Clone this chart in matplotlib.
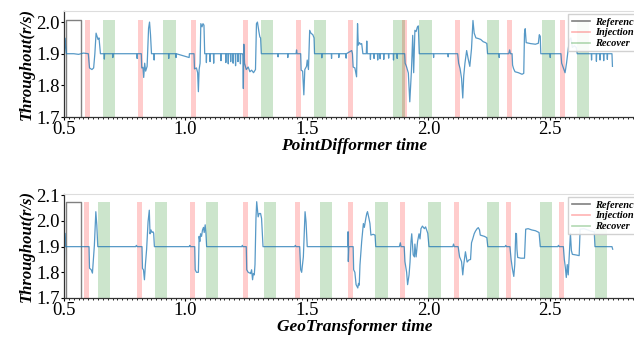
import numpy as np
import matplotlib
matplotlib.use("Agg")
import matplotlib.pyplot as plt
from matplotlib.lines import Line2D
from matplotlib.ticker import MultipleLocator

plt.rcParams['font.family'] = ['Liberation Serif', 'DejaVu Serif']

# ---- PointDifformer trace (time, throughput) ----
pd_t = [0.500, 0.503, 0.506, 0.510, 0.540, 0.560, 0.580, 0.600, 0.605, 0.615, 0.622, 0.627,
        0.632, 0.636, 0.640, 0.644, 0.650, 0.665, 0.666, 0.667, 0.700, 0.701, 0.702, 0.760,
        0.800, 0.801, 0.802, 0.818, 0.820, 0.825, 0.828, 0.832, 0.836, 0.842, 0.848, 0.852,
        0.856, 0.860, 0.870, 0.871, 0.872, 0.930, 0.931, 0.932, 0.960, 0.961, 0.962,
        1.015, 1.016, 1.035, 1.037, 1.045, 1.050, 1.053, 1.056, 1.060, 1.063, 1.068, 1.072,
        1.076, 1.079, 1.085, 1.086, 1.087, 1.100, 1.101, 1.102, 1.115, 1.116, 1.117,
        1.145, 1.146, 1.147, 1.165, 1.166, 1.167, 1.175, 1.176, 1.177, 1.185, 1.186, 1.187,
        1.195, 1.196, 1.197, 1.205, 1.206, 1.207, 1.215, 1.216, 1.217, 1.225, 1.226, 1.227,
        1.234, 1.236, 1.238, 1.240, 1.243, 1.250, 1.258, 1.265, 1.272, 1.280, 1.288, 1.292,
        1.296, 1.302, 1.306, 1.309, 1.312, 1.380, 1.381, 1.382, 1.420, 1.421, 1.422,
        1.455, 1.457, 1.459, 1.474, 1.476, 1.482, 1.487, 1.491, 1.498, 1.501, 1.506, 1.511,
        1.516, 1.524, 1.529, 1.531, 1.560, 1.561, 1.562, 1.600, 1.601, 1.602, 1.630, 1.631,
        1.632, 1.660, 1.661, 1.662, 1.684, 1.687, 1.690, 1.697, 1.704, 1.708, 1.711, 1.716,
        1.720, 1.725, 1.730, 1.744, 1.746, 1.748, 1.760, 1.761, 1.762, 1.775, 1.776, 1.777,
        1.790, 1.791, 1.792, 1.800, 1.801, 1.802, 1.815, 1.816, 1.817, 1.835, 1.836, 1.837,
        1.855, 1.856, 1.857, 1.870, 1.871, 1.872, 1.902, 1.904, 1.910, 1.917, 1.923, 1.930,
        1.935, 1.939, 1.944, 1.949, 1.954, 1.958, 1.962, 2.020, 2.021, 2.022, 2.080, 2.081,
        2.082, 2.120, 2.124, 2.130, 2.136, 2.141, 2.145, 2.150, 2.157, 2.163, 2.170, 2.177,
        2.183, 2.188, 2.195, 2.205, 2.215, 2.225, 2.235, 2.240, 2.243, 2.290, 2.291, 2.292,
        2.330, 2.334, 2.337, 2.344, 2.346, 2.350, 2.356, 2.370, 2.385, 2.392, 2.395, 2.398,
        2.402, 2.420, 2.440, 2.452, 2.456, 2.460, 2.462, 2.500, 2.501, 2.502, 2.545, 2.548,
        2.555, 2.562, 2.568, 2.575, 2.581, 2.586, 2.592, 2.600, 2.608, 2.612, 2.670, 2.671,
        2.672, 2.690, 2.691, 2.692, 2.705, 2.706, 2.707, 2.720, 2.721, 2.722, 2.735, 2.736,
        2.737, 2.755, 2.757]
pd_y = [1.800, 1.950, 1.930, 1.900, 1.900, 1.898, 1.902, 1.900, 1.855, 1.850, 1.855, 1.900,
        1.965, 1.955, 1.945, 1.950, 1.900, 1.900, 1.883, 1.900, 1.900, 1.888, 1.900, 1.900,
        1.900, 1.885, 1.900, 1.900, 1.855, 1.857, 1.825, 1.870, 1.845, 1.860, 1.980, 2.000,
        1.960, 1.900, 1.900, 1.880, 1.900, 1.900, 1.885, 1.900, 1.900, 1.888, 1.900,
        1.888, 1.900, 1.900, 1.852, 1.855, 1.840, 1.780, 1.850, 1.870, 1.995, 1.985, 1.995,
        1.990, 1.900, 1.900, 1.872, 1.900, 1.900, 1.875, 1.900, 1.900, 1.870, 1.900,
        1.900, 1.878, 1.900, 1.900, 1.872, 1.900, 1.900, 1.868, 1.900, 1.900, 1.875, 1.900,
        1.900, 1.870, 1.900, 1.900, 1.862, 1.900, 1.900, 1.875, 1.900, 1.900, 1.868, 1.900,
        1.900, 1.895, 1.790, 1.930, 1.870, 1.850, 1.858, 1.843, 1.848, 1.840, 1.850, 1.995,
        2.000, 1.970, 1.953, 1.950, 1.900, 1.900, 1.890, 1.900, 1.900, 1.888, 1.900,
        1.900, 1.912, 1.900, 1.900, 1.848, 1.845, 1.770, 1.850, 1.860, 1.880, 1.850, 1.974,
        1.965, 1.960, 1.950, 1.900, 1.900, 1.887, 1.900, 1.900, 1.885, 1.900, 1.900, 1.888,
        1.900, 1.900, 1.886, 1.900, 1.910, 1.900, 1.858, 1.855, 1.827, 1.995, 1.927, 1.935,
        1.930, 1.932, 1.900, 1.900, 1.940, 1.900, 1.900, 1.882, 1.900, 1.900, 1.885, 1.900,
        1.900, 1.880, 1.900, 1.900, 1.884, 1.900, 1.900, 1.882, 1.900, 1.900, 1.886, 1.900,
        1.900, 1.880, 1.900, 1.900, 1.885, 1.900, 1.900, 1.870, 1.858, 1.839, 1.748, 1.850,
        1.958, 1.840, 1.974, 1.970, 1.984, 1.988, 1.900, 1.900, 1.888, 1.900, 1.900, 1.890,
        1.900, 1.900, 1.870, 1.853, 1.822, 1.760, 1.830, 1.870, 1.910, 1.885, 1.860, 1.916,
        2.005, 1.965, 1.950, 1.948, 1.945, 1.938, 1.935, 1.932, 1.900, 1.900, 1.888, 1.900,
        1.900, 1.912, 1.900, 1.900, 1.864, 1.853, 1.843, 1.840, 1.835, 1.838, 1.964, 1.979,
        1.935, 1.932, 1.930, 1.933, 1.960, 1.955, 1.900, 1.900, 1.888, 1.900, 1.900, 1.870,
        1.855, 1.840, 1.870, 1.915, 1.945, 1.950, 1.920, 1.925, 1.920, 1.900, 1.900, 1.880,
        1.900, 1.900, 1.876, 1.900, 1.900, 1.880, 1.900, 1.900, 1.878, 1.900, 1.900, 1.882,
        1.900, 1.900, 1.860]

# ---- GeoTransformer trace ----
geo_t = [0.500, 0.503, 0.507, 0.600, 0.603, 0.605, 0.612, 0.617, 0.625, 0.631, 0.635, 0.639,
         0.795, 0.798, 0.801, 0.821, 0.823, 0.827, 0.831, 0.835, 0.840, 0.846, 0.851, 0.854,
         0.858, 0.862, 0.866, 0.869, 0.872,
         1.015, 1.018, 1.020, 1.038, 1.040, 1.045, 1.053, 1.056, 1.059, 1.062, 1.066, 1.070,
         1.074, 1.077, 1.081, 1.084, 1.087,
         1.232, 1.234, 1.236, 1.250, 1.252, 1.258, 1.265, 1.268, 1.272, 1.276, 1.279, 1.283,
         1.286, 1.290, 1.293, 1.297, 1.299, 1.303, 1.309, 1.313, 1.319,
         1.449, 1.452, 1.455, 1.470, 1.474, 1.478, 1.485, 1.492, 1.496, 1.501,
         1.668, 1.669, 1.670, 1.672, 1.690, 1.692, 1.697, 1.702, 1.709, 1.712, 1.715, 1.718,
         1.725, 1.732, 1.736, 1.742, 1.746, 1.749, 1.755, 1.759, 1.763, 1.772, 1.780, 1.783,
         1.880, 1.884, 1.887, 1.900, 1.903, 1.910, 1.914, 1.920, 1.924, 1.928, 1.931, 1.937,
         1.942, 1.944, 1.949, 1.955, 1.961, 1.965, 1.969, 1.975, 1.983, 1.988, 1.997, 2.002,
         2.100, 2.103, 2.106, 2.122, 2.128, 2.136, 2.141, 2.145, 2.152, 2.159, 2.166, 2.173,
         2.177, 2.182, 2.188, 2.193, 2.200, 2.205, 2.210, 2.213, 2.230, 2.240, 2.244,
         2.315, 2.318, 2.321, 2.335, 2.340, 2.345, 2.351, 2.355, 2.359, 2.362, 2.364, 2.367,
         2.380, 2.395, 2.400, 2.410, 2.425, 2.440, 2.455, 2.460,
         2.532, 2.535, 2.538, 2.555, 2.559, 2.563, 2.567, 2.571, 2.575, 2.579, 2.584, 2.588,
         2.592, 2.605, 2.620, 2.624, 2.640, 2.655, 2.670, 2.682, 2.685, 2.755, 2.758]
geo_y = [1.700, 1.953, 1.900, 1.900, 1.900, 1.816, 1.810, 1.797, 1.905, 2.036, 1.984, 1.900,
         1.900, 1.905, 1.900, 1.900, 1.815, 1.810, 1.771, 1.830, 1.890, 1.997, 2.042, 1.950,
         1.965, 1.955, 1.958, 1.953, 1.900,
         1.900, 1.905, 1.900, 1.900, 1.810, 1.800, 1.800, 1.940, 1.920, 1.950, 1.940, 1.965,
         1.975, 1.955, 1.985, 1.952, 1.900,
         1.900, 1.905, 1.900, 1.900, 1.810, 1.800, 1.797, 1.795, 1.810, 1.771, 1.795, 1.790,
         1.830, 2.011, 2.075, 2.036, 2.016, 2.029, 2.029, 2.010, 1.900,
         1.900, 1.905, 1.900, 1.900, 1.810, 1.800, 1.860, 2.036, 1.997, 1.900,
         1.900, 1.958, 1.842, 1.900, 1.900, 1.810, 1.800, 1.752, 1.739, 1.757, 1.750, 1.829,
         1.920, 1.990, 1.975, 2.010, 2.029, 2.036, 2.010, 1.990, 1.945, 1.948, 1.945, 1.900,
         1.900, 1.915, 1.900, 1.900, 1.842, 1.800, 1.752, 1.790, 1.840, 1.920, 1.950, 1.868,
         1.860, 1.910, 1.860, 1.920, 1.950, 1.930, 1.970, 1.980, 1.970, 1.977, 1.952, 1.900,
         1.900, 1.910, 1.900, 1.900, 1.860, 1.842, 1.790, 1.830, 1.880, 1.840, 1.848, 1.850,
         1.915, 1.930, 1.950, 1.960, 1.970, 1.974, 1.965, 1.945, 1.940, 1.935, 1.900,
         1.900, 1.905, 1.900, 1.900, 1.850, 1.815, 1.784, 1.830, 1.952, 1.950, 1.890, 1.858,
         1.855, 1.855, 1.968, 1.970, 1.965, 1.962, 1.955, 1.900,
         1.900, 1.905, 1.900, 1.900, 1.850, 1.820, 1.780, 1.830, 1.790, 1.860, 1.952, 1.885,
         1.870, 1.868, 1.865, 1.968, 1.970, 1.965, 1.960, 1.958, 1.900, 1.900, 1.890]

# ---- fault injection / recovery windows ----
pd_inject = [(0.586, 0.607), (0.803, 0.824), (1.021, 1.042), (1.238, 1.258), (1.455, 1.475),
             (1.670, 1.690), (1.889, 1.910), (2.109, 2.130), (2.324, 2.345), (2.541, 2.562)]
pd_recover = [(0.659, 0.710), (0.909, 0.960), (1.309, 1.359), (1.530, 1.579), (1.852, 1.903),
              (1.961, 2.013), (2.242, 2.290), (2.469, 2.520), (2.612, 2.662)]
geo_inject = [(0.584, 0.604), (0.802, 0.822), (1.019, 1.039), (1.235, 1.256), (1.452, 1.472),
              (1.667, 1.688), (1.884, 1.905), (2.104, 2.124), (2.319, 2.339), (2.537, 2.558)]
geo_recover = [(0.638, 0.689), (0.873, 0.924), (1.083, 1.132), (1.323, 1.374), (1.553, 1.604),
               (1.781, 1.833), (2.000, 2.051), (2.242, 2.290), (2.459, 2.509), (2.685, 2.736)]

# reference window (start, end, level)
pd_ref = (0.508, 0.571, 2.008)
geo_ref = (0.508, 0.571, 2.073)

panels = [
    dict(t=pd_t, y=pd_y, inj=pd_inject, rec=pd_recover, ref=pd_ref,
         ylim=(1.7, 2.035), yticks=[1.7, 1.8, 1.9, 2.0], xlabel="PointDifformer time"),
    dict(t=geo_t, y=geo_y, inj=geo_inject, rec=geo_recover, ref=geo_ref,
         ylim=(1.7, 2.105), yticks=[1.7, 1.8, 1.9, 2.0, 2.1], xlabel="GeoTransformer time"),
]

W, H = 634, 339
fig = plt.figure(figsize=(W / 100, H / 100), dpi=100)
# axes boxes in pixels: left, top, right, bottom
boxes = [(64, 11, 645, 117), (64, 194, 645, 298)]
x_lo, x_hi = 0.5, 0.5 + (645 - 64) / 243.0

lab_font = dict(fontweight='bold', fontstyle='italic', fontsize=12.5)

for p, (l, t, r, b) in zip(panels, boxes):
    ax = fig.add_axes([l / W, 1 - b / H, (r - l) / W, (b - t) / H])
    lo, hi = p['ylim']
    r0, r1, lvl = p['ref']
    frac = (lvl - lo) / (hi - lo)
    for a, c in p['inj']:
        ax.axvspan(a, c, ymin=0, ymax=frac, color='red', alpha=0.2, lw=0)
    for a, c in p['rec']:
        ax.axvspan(a, c, ymin=0, ymax=frac, color='green', alpha=0.2, lw=0)
    ax.plot([r0, r0, r1, r1], [lo, lvl, lvl, lo], color='gray', lw=1.0)
    ax.plot(p['t'], p['y'], color='#1f77b4', lw=0.9, alpha=0.75)

    ax.set_xlim(x_lo, x_hi)
    ax.set_ylim(lo, hi)
    ax.set_xticks([0.5, 1.0, 1.5, 2.0, 2.5])
    ax.set_yticks(p['yticks'])
    ax.xaxis.set_minor_locator(MultipleLocator(0.02))
    ax.tick_params(axis='both', which='major', labelsize=13.5, length=2, width=0.8, pad=1)
    ax.tick_params(axis='x', which='minor', length=1.5, width=0.6)
    for s in ['top', 'right']:
        ax.spines[s].set_color('#dddddd')
    for s in ['left', 'bottom']:
        ax.spines[s].set_color('#333333')
        ax.spines[s].set_linewidth(0.9)
    ax.set_xlabel(p['xlabel'], labelpad=0, **lab_font)
    ax.set_ylabel("Throughout(r/s)", labelpad=1, fontweight='bold', fontstyle='italic',
                  fontsize=12)

    handles = [Line2D([], [], color='gray', lw=1.2),
               Line2D([], [], color='red', alpha=0.3, lw=1.2),
               Line2D([], [], color='green', alpha=0.3, lw=1.2)]
    ax.legend(handles, ['Reference', 'Injection', 'Recover'], loc='upper right',
              prop=dict(family='Liberation Serif', weight='bold', style='italic', size=7.5),
              handlelength=1.8, handletextpad=0.5, labelspacing=0.15, borderpad=0.3,
              borderaxespad=0.3, fancybox=False, framealpha=0.9, edgecolor='#cccccc')

fig.savefig("out.png", dpi=100)
